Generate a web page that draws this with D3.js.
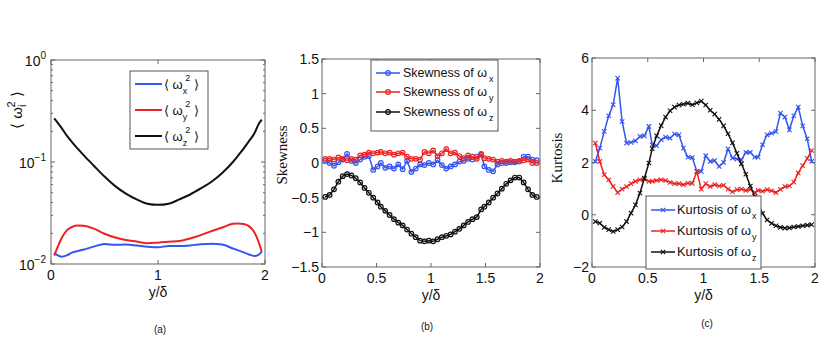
<!DOCTYPE html>
<html><head><meta charset="utf-8">
<script src="https://cdn.jsdelivr.net/npm/d3@7"></script>
<style>body{margin:0;background:#fff}svg{display:block}text{font-family:"Liberation Sans",Arial,sans-serif;fill:#111}</style>
</head><body><svg id="c" width="830" height="358"></svg>
<script>
// ---------- DATA ----------
const xA = [0.03,0.06,0.1,0.15,0.2,0.25,0.3,0.4,0.5,0.6,0.7,0.8,0.9,1.0,1.1,1.2,1.3,1.4,1.5,1.6,1.7,1.75,1.8,1.85,1.9,1.94,1.97];
const meanSqX = [0.0128,0.0122,0.0118,0.0122,0.013,0.0134,0.0138,0.0148,0.0157,0.0154,0.0155,0.0152,0.0148,0.0146,0.015,0.015,0.0152,0.0156,0.0158,0.0155,0.0142,0.0136,0.013,0.0124,0.012,0.0123,0.0132];
const meanSqY = [0.0121,0.0145,0.018,0.0215,0.0232,0.0238,0.0237,0.0222,0.0198,0.0182,0.0172,0.0166,0.016,0.0162,0.0165,0.0168,0.0178,0.0192,0.021,0.0228,0.0248,0.025,0.0247,0.0235,0.0205,0.0165,0.0132];
const meanSqZ = [0.268,0.245,0.215,0.18,0.155,0.135,0.118,0.092,0.072,0.058,0.049,0.043,0.039,0.038,0.039,0.043,0.048,0.055,0.064,0.078,0.1,0.116,0.135,0.16,0.19,0.235,0.26];

const xB = [0.03,0.07,0.11,0.15,0.19,0.23,0.27,0.31,0.35,0.39,0.43,0.47,0.51,0.54,0.58,0.62,0.66,0.70,0.74,0.78,0.82,0.86,0.90,0.94,0.98,1.02,1.06,1.10,1.14,1.18,1.22,1.26,1.30,1.34,1.38,1.42,1.46,1.49,1.53,1.57,1.61,1.65,1.69,1.73,1.77,1.81,1.85,1.89,1.93,1.97];
const skewX = [0.03,0.0,-0.04,0.01,0.05,0.13,0.03,0.0,0.05,0.09,0.1,-0.1,-0.05,0.0,-0.07,-0.05,-0.08,-0.02,-0.09,0.03,-0.13,-0.08,-0.02,-0.03,0.0,-0.02,0.04,-0.03,-0.08,-0.05,-0.02,0.02,0.03,0.06,0.05,0.09,0.13,-0.05,-0.1,-0.12,-0.02,0.0,0.0,0.01,0.01,0.02,0.09,0.09,0.05,0.04];
const skewY = [0.06,0.06,0.05,0.08,0.06,0.04,0.06,0.05,0.11,0.12,0.15,0.14,0.15,0.16,0.14,0.15,0.12,0.14,0.15,0.09,0.06,0.06,0.05,0.16,0.14,0.18,0.1,0.14,0.2,0.14,0.15,0.1,0.07,0.11,0.09,0.06,0.12,0.07,0.06,0.05,0.02,0.03,0.02,0.03,0.02,0.03,0.04,0.05,0.0,0.0];
const skewZ = [-0.49,-0.46,-0.38,-0.27,-0.19,-0.16,-0.18,-0.22,-0.28,-0.36,-0.43,-0.5,-0.57,-0.63,-0.69,-0.75,-0.81,-0.86,-0.9,-0.96,-1.02,-1.07,-1.12,-1.13,-1.12,-1.13,-1.1,-1.07,-1.05,-1.03,-0.99,-0.95,-0.9,-0.85,-0.81,-0.78,-0.67,-0.63,-0.57,-0.5,-0.44,-0.37,-0.3,-0.25,-0.21,-0.21,-0.28,-0.38,-0.46,-0.49];

const xC = xB;
const kurtX = [2.04,2.55,3.19,3.79,4.21,5.23,3.57,2.74,2.77,2.83,3.0,3.02,3.38,2.68,2.64,2.87,2.97,2.93,3.09,3.06,2.55,2.2,2.19,1.66,1.66,2.26,2.04,2.07,1.85,2.0,2.52,2.17,2.13,2.1,2.39,2.39,2.2,2.2,2.68,3.06,3.12,3.18,3.89,3.74,3.25,3.79,4.12,3.4,2.91,2.04];
const kurtY = [2.74,2.04,1.53,1.34,1.08,0.85,0.98,1.08,1.19,1.28,1.34,1.36,1.28,1.28,1.31,1.34,1.31,1.24,1.19,1.19,1.15,1.21,1.2,1.65,0.98,1.19,1.08,1.15,1.1,1.13,0.98,0.88,0.96,0.98,0.93,0.97,0.85,0.93,0.9,0.96,0.92,0.85,0.97,1.08,1.1,1.25,1.6,1.88,2.15,2.46];
const kurtZ = [-0.26,-0.32,-0.48,-0.57,-0.64,-0.57,-0.47,-0.26,0.06,0.38,0.83,1.4,1.98,2.53,3.02,3.41,3.74,3.98,4.12,4.2,4.23,4.27,4.21,4.28,4.35,4.2,4.0,3.85,3.65,3.4,3.1,2.75,2.35,1.95,1.55,1.1,0.7,0.4,0.05,-0.2,-0.33,-0.42,-0.48,-0.51,-0.5,-0.47,-0.45,-0.42,-0.4,-0.38];

const ticksXA = [0,1,2];
const ticksYA = [1e-2,1e-1,1];
const ticksYAlabels = ["−2","−1","0"];
const ticksX = [0,0.5,1,1.5,2];
const ticksXlabels = ["0","0.5","1","1.5","2"];
const ticksYB = [-1.5,-1,-0.5,0,0.5,1,1.5];
const ticksYBlabels = ["−1.5","−1","−0.5","0","0.5","1","1.5"];
const ticksYC = [-2,0,2,4,6];
const ticksYClabels = ["−2","0","2","4","6"];
const subs = ["x","y","z"];
const colors = ["#3355f0","#ee2222","#111111"];

// ---------- DRAW ----------
const svg = d3.select("#c");

function frame(g, x, y, xt, yt, yMinor) {
  const [x0,x1] = x.range(), [y1,y0] = y.range();
  g.append("rect").attr("x",x0).attr("y",y0).attr("width",x1-x0).attr("height",y1-y0)
    .attr("fill","none").attr("stroke","#666").attr("stroke-width",1);
  const tl = 4;
  xt.forEach(v => {
    g.append("line").attr("x1",x(v)).attr("x2",x(v)).attr("y1",y1).attr("y2",y1-tl).attr("stroke","#666");
    g.append("line").attr("x1",x(v)).attr("x2",x(v)).attr("y1",y0).attr("y2",y0+tl).attr("stroke","#666");
  });
  yt.forEach(v => {
    g.append("line").attr("x1",x0).attr("x2",x0+tl).attr("y1",y(v)).attr("y2",y(v)).attr("stroke","#666");
    g.append("line").attr("x1",x1).attr("x2",x1-tl).attr("y1",y(v)).attr("y2",y(v)).attr("stroke","#666");
  });
  (yMinor||[]).forEach(v => {
    g.append("line").attr("x1",x0).attr("x2",x0+2).attr("y1",y(v)).attr("y2",y(v)).attr("stroke","#666");
    g.append("line").attr("x1",x1).attr("x2",x1-2).attr("y1",y(v)).attr("y2",y(v)).attr("stroke","#666");
  });
}
function xTickLabels(g, x, y, vals, labels, off) {
  const yb = y.range()[0];
  vals.forEach((v,i) => g.append("text").attr("x",x(v)).attr("y",yb+off).attr("text-anchor","middle")
    .attr("font-size",14).text(labels[i]));
}
function yTickLabels(g, x, y, vals, labels) {
  const x0 = x.range()[0];
  vals.forEach((v,i) => g.append("text").attr("x",x0-3).attr("y",y(v)+5).attr("text-anchor","end")
    .attr("font-size",14).text(labels[i]));
}
function xLabel(g, x, yy) {
  const [x0,x1]=x.range();
  g.append("text").attr("x",(x0+x1)/2).attr("y",yy).attr("text-anchor","middle").attr("font-size",14).text("y/δ");
}

// ----- Panel (a)
{
  const g = svg.append("g");
  const x = d3.scaleLinear().domain([0,2]).range([51,265]);
  const y = d3.scaleLog().domain([1e-2,1]).range([264,60]);
  const minors = [];
  [0.01,0.1].forEach(b => { for (let k=2;k<=9;k++) minors.push(b*k); });
  frame(g,x,y,ticksXA,ticksYA,minors);
  const line = d3.line().x(d=>x(d[0])).y(d=>y(d[1])).curve(d3.curveMonotoneX);
  [meanSqX,meanSqY,meanSqZ].forEach((s,i) => {
    g.append("path").attr("d",line(xA.map((v,j)=>[v,s[j]]))).attr("fill","none")
      .attr("stroke",colors[i]).attr("stroke-width",2);
  });
  ticksYA.forEach((v,i) => {
    const t = g.append("text").attr("x",46).attr("y",y(v)+6).attr("text-anchor","end").attr("font-size",14);
    t.append("tspan").text("10");
    t.append("tspan").attr("dy",-7).attr("font-size",10).text(ticksYAlabels[i]);
  });
  xTickLabels(g,x,y,ticksXA,["0","1","2"],16);
  xLabel(g,x,297);
  const yl = g.append("text").attr("transform","translate(22,110) rotate(-90)").attr("text-anchor","middle").attr("font-size",15);
  yl.append("tspan").text("⟨ ω");
  yl.append("tspan").attr("dy",4).attr("font-size",11).text("i");
  yl.append("tspan").attr("dy",-11).attr("dx",-3).attr("font-size",11).text("2");
  yl.append("tspan").attr("dy",7).text(" ⟩");
  // legend
  g.append("rect").attr("x",130).attr("y",71).attr("width",78).attr("height",78).attr("fill","#fff").attr("stroke","#555");
  [84,110,136].forEach((ry,i) => {
    g.append("line").attr("x1",135).attr("x2",162).attr("y1",ry).attr("y2",ry).attr("stroke",colors[i]).attr("stroke-width",2);
    const t = g.append("text").attr("x",164).attr("y",ry+5).attr("font-size",13);
    t.append("tspan").text("⟨ ω");
    t.append("tspan").attr("dy",5).attr("font-size",9).text(subs[i]);
    t.append("tspan").attr("dy",-13).attr("dx",-2).attr("font-size",9).text("2");
    t.append("tspan").attr("dy",8).text(" ⟩");
  });
  g.append("text").attr("x",160).attr("y",333).attr("text-anchor","middle").attr("font-size",10).text("(a)");
}

// ----- Panel (b)
{
  const g = svg.append("g");
  const x = d3.scaleLinear().domain([0,2]).range([322,540]);
  const y = d3.scaleLinear().domain([-1.5,1.5]).range([267,59]);
  frame(g,x,y,ticksX,ticksYB);
  const line = d3.line().x(d=>x(d[0])).y(d=>y(d[1]));
  [skewX,skewY,skewZ].forEach((s,i) => {
    const pts = xB.map((v,j)=>[v,s[j]]);
    g.append("path").attr("d",line(pts)).attr("fill","none").attr("stroke",colors[i]).attr("stroke-width",1.5);
    g.selectAll(null).data(pts).enter().append("circle").attr("cx",d=>x(d[0])).attr("cy",d=>y(d[1]))
      .attr("r",2.3).attr("fill","none").attr("stroke",colors[i]).attr("stroke-width",1.2);
  });
  yTickLabels(g,x,y,ticksYB,ticksYBlabels);
  xTickLabels(g,x,y,ticksX,ticksXlabels,16);
  xLabel(g,x,300);
  g.append("text").attr("transform","translate(287,155) rotate(-90)").attr("text-anchor","middle")
    .attr("font-size",15).style("font-family","'Liberation Serif','Times New Roman',serif").text("Skewness");
  g.append("rect").attr("x",371).attr("y",60).attr("width",127).attr("height",71).attr("fill","#fff").attr("stroke","#555");
  [73,92,112].forEach((ry,i) => {
    g.append("line").attr("x1",376).attr("x2",400).attr("y1",ry).attr("y2",ry).attr("stroke",colors[i]).attr("stroke-width",1.5);
    g.append("circle").attr("cx",388).attr("cy",ry).attr("r",2.3).attr("fill","none").attr("stroke",colors[i]).attr("stroke-width",1.2);
    g.append("text").attr("x",403).attr("y",ry+4).attr("font-size",13)
      .attr("textLength",84).attr("lengthAdjust","spacingAndGlyphs").text("Skewness of ω");
    g.append("text").attr("x",489).attr("y",ry+9).attr("font-size",9).text(subs[i]);
  });
  g.append("text").attr("x",427).attr("y",330).attr("text-anchor","middle").attr("font-size",10).text("(b)");
}

// ----- Panel (c)
{
  const g = svg.append("g");
  const x = d3.scaleLinear().domain([0,2]).range([592,815]);
  const y = d3.scaleLinear().domain([-2,6]).range([267,58]);
  frame(g,x,y,ticksX,ticksYC);
  const line = d3.line().x(d=>x(d[0])).y(d=>y(d[1]));
  [kurtX,kurtY,kurtZ].forEach((s,i) => {
    const pts = xC.map((v,j)=>[v,s[j]]);
    g.append("path").attr("d",line(pts)).attr("fill","none").attr("stroke",colors[i]).attr("stroke-width",1.5);
    g.selectAll(null).data(pts).enter().append("path")
      .attr("d",d=>{const cx=x(d[0]),cy=y(d[1]),r=2.2;return `M${cx-r},${cy-r}L${cx+r},${cy+r}M${cx-r},${cy+r}L${cx+r},${cy-r}`;})
      .attr("stroke",colors[i]).attr("stroke-width",1.1).attr("fill","none");
  });
  yTickLabels(g,x,y,ticksYC,ticksYClabels);
  xTickLabels(g,x,y,ticksX,ticksXlabels,16);
  xLabel(g,x,300);
  g.append("text").attr("transform","translate(562,158) rotate(-90)").attr("text-anchor","middle")
    .attr("font-size",15).style("font-family","'Liberation Serif','Times New Roman',serif").text("Kurtosis");
  g.append("rect").attr("x",646).attr("y",196).attr("width",115).attr("height",73).attr("fill","#fff").attr("stroke","#555");
  [210,231,252].forEach((ry,i) => {
    g.append("line").attr("x1",651).attr("x2",675).attr("y1",ry).attr("y2",ry).attr("stroke",colors[i]).attr("stroke-width",1.5);
    const cx=663,r=2.2;
    g.append("path").attr("d",`M${cx-r},${ry-r}L${cx+r},${ry+r}M${cx-r},${ry+r}L${cx+r},${ry-r}`).attr("stroke",colors[i]).attr("stroke-width",1.1);
    g.append("text").attr("x",677).attr("y",ry+4).attr("font-size",13)
      .attr("textLength",74).attr("lengthAdjust","spacingAndGlyphs").text("Kurtosis of ω");
    g.append("text").attr("x",752).attr("y",ry+9).attr("font-size",9).text(subs[i]);
  });
  g.append("text").attr("x",707).attr("y",327).attr("text-anchor","middle").attr("font-size",10).text("(c)");
}
</script></body></html>
